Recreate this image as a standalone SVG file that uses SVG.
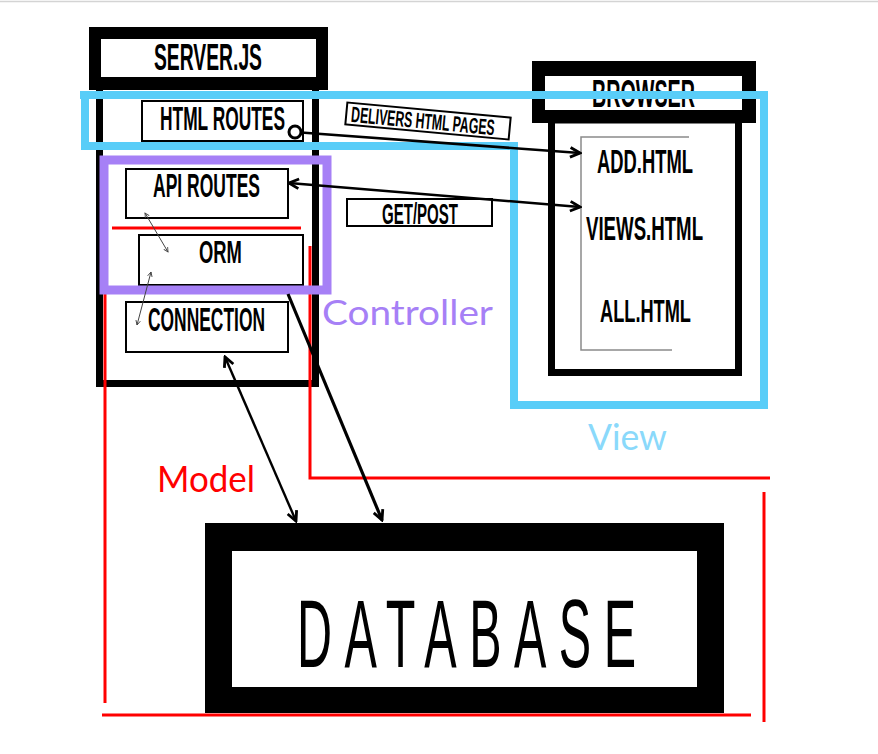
<svg xmlns="http://www.w3.org/2000/svg" width="878" height="754" viewBox="0 0 878 754">
<style>
.lbl{font-family:"Liberation Sans",Arial,sans-serif;fill:#000;font-weight:bold}
.db{font-family:"Liberation Sans",Arial,sans-serif;fill:#000}
.reg{font-family:Lato,"Open Sans",sans-serif}
.box{fill:#fff;stroke:#000;stroke-width:2}
.thick{fill:none;stroke:#000;stroke-width:7}
.red{fill:none;stroke:#ff0000;stroke-width:3}
.conn{fill:none;stroke:#000}
.thin{fill:none;stroke:#444;stroke-width:1}
</style>
<defs>
<marker id="ah" viewBox="0 0 12 12" refX="10.5" refY="6" markerWidth="13" markerHeight="13" markerUnits="userSpaceOnUse" orient="auto-start-reverse">
<path d="M1.5,1.5 L10.5,6 L1.5,10.5" fill="none" stroke="#000" stroke-width="2.6"/>
</marker>
<marker id="sah" viewBox="0 0 8 8" refX="7" refY="4" markerWidth="6" markerHeight="6" markerUnits="userSpaceOnUse" orient="auto-start-reverse">
<path d="M1,1 L7,4 L1,7" fill="none" stroke="#444" stroke-width="1.2"/>
</marker>
</defs>
<rect width="878" height="754" fill="#fff"/>
<line x1="0" y1="1.5" x2="878" y2="1.5" stroke="#d4d4d4" stroke-width="1.5"/>

<g id="server">
<rect class="thick" x="99.5" y="86" width="216" height="297.5"/>
<rect x="89" y="27" width="239" height="63" fill="#000"/>
<rect x="101" y="39" width="215" height="38" fill="#fff"/>
<text class="lbl" transform="translate(154,70) scale(0.5,1)" font-size="37" textLength="216" lengthAdjust="spacingAndGlyphs">SERVER.JS</text>
</g>
<g id="html-routes">
<rect class="box" x="142" y="101" width="161" height="40"/>
<text class="lbl" transform="translate(160,130) scale(0.5,1)" font-size="33" textLength="250" lengthAdjust="spacingAndGlyphs">HTML ROUTES</text>
</g>
<g id="api-routes">
<rect class="box" x="126" y="169" width="162" height="49"/>
<text class="lbl" transform="translate(153,197) scale(0.5,1)" font-size="33" textLength="214" lengthAdjust="spacingAndGlyphs">API ROUTES</text>
</g>
<g id="orm">
<rect class="box" x="139" y="235" width="164" height="50"/>
<text class="lbl" transform="translate(199,263) scale(0.55,1)" font-size="32" textLength="78" lengthAdjust="spacingAndGlyphs">ORM</text>
</g>
<g id="connection">
<rect class="box" x="126" y="302" width="162" height="50"/>
<text class="lbl" transform="translate(148,331) scale(0.5,1)" font-size="33" textLength="234" lengthAdjust="spacingAndGlyphs">CONNECTION</text>
</g>

<g id="browser">
<rect class="thick" x="551.5" y="120" width="187" height="252.5"/>
<rect x="532" y="61" width="224" height="62" fill="#000"/>
<rect x="545" y="76" width="197" height="34" fill="#fff"/>
<text class="lbl" transform="translate(592,107) scale(0.5,1)" font-size="39" textLength="206" lengthAdjust="spacingAndGlyphs">BROWSER</text>
<path d="M689,137 H581 V350 H672" fill="none" stroke="#8a8a8a" stroke-width="1.5"/>
</g>
<g id="add-html">
<text class="lbl" transform="translate(597,173) scale(0.55,1)" font-size="33" textLength="174.5" lengthAdjust="spacingAndGlyphs">ADD.HTML</text>
</g>
<g id="views-html">
<text class="lbl" transform="translate(586,240) scale(0.53,1)" font-size="34" textLength="220.8" lengthAdjust="spacingAndGlyphs">VIEWS.HTML</text>
</g>
<g id="all-html">
<text class="lbl" transform="translate(600,322) scale(0.57,1)" font-size="32" textLength="159.6" lengthAdjust="spacingAndGlyphs">ALL.HTML</text>
</g>

<g id="database">
<rect x="205" y="523" width="519" height="190" fill="#000"/>
<rect x="232" y="551" width="465" height="136" fill="#fff"/>
<text class="db" transform="translate(297,667) scale(0.5,1)" font-size="97" textLength="678" lengthAdjust="spacing">DATABASE</text>
</g>

<g id="delivers-label" transform="translate(428,121) rotate(5.3)">
<rect class="box" x="-82" y="-11" width="164" height="22"/>
<text class="lbl" transform="translate(-77,8) scale(0.5,1)" font-size="22" textLength="288" lengthAdjust="spacingAndGlyphs">DELIVERS HTML PAGES</text>
</g>
<g id="getpost-label">
<rect class="box" x="347" y="199" width="145" height="27"/>
<text class="lbl" transform="translate(382,224) scale(0.5,1)" font-size="29" textLength="152" lengthAdjust="spacingAndGlyphs">GET/POST</text>
</g>

<g id="model">
<line class="red" x1="112" y1="228" x2="301" y2="228"/>
<line class="red" x1="105" y1="292" x2="105" y2="703"/>
<line class="red" x1="102" y1="715" x2="751" y2="715"/>
<path class="red" d="M310,246 V478 H770"/>
<line class="red" x1="764" y1="492" x2="764" y2="722"/>
<text class="reg" x="157" y="492" font-size="36" fill="#ff0000" textLength="98" lengthAdjust="spacingAndGlyphs">Model</text>
</g>
<g id="controller">
<rect x="104" y="160" width="223" height="130" fill="none" stroke="#a680f6" stroke-width="9"/>
<text class="reg" x="322" y="325" font-size="35" fill="#a680f6" textLength="171" lengthAdjust="spacingAndGlyphs">Controller</text>
</g>
<g id="view">
<path d="M80,95 H764 V405 H514 V146 H85 V95" fill="none" stroke="#59cdf8" stroke-width="8"/>
<text class="reg" x="588" y="450" font-size="37" fill="#8ad9fb" textLength="79" lengthAdjust="spacingAndGlyphs">View</text>
</g>

<g id="connectors">
<line class="conn" stroke-width="2.6" x1="301" y1="132.5" x2="580" y2="153" marker-end="url(#ah)"/>
<circle cx="295" cy="132" r="6" fill="#fff" stroke="#000" stroke-width="3"/>
<line class="conn" stroke-width="2.6" x1="289" y1="183" x2="580" y2="207" marker-start="url(#ah)" marker-end="url(#ah)"/>
<line class="conn" stroke-width="2.4" x1="225" y1="357" x2="296" y2="521" marker-start="url(#ah)" marker-end="url(#ah)"/>
<line class="conn" stroke-width="3.2" x1="288" y1="294" x2="382" y2="520" marker-end="url(#ah)"/>
<line class="thin" x1="145" y1="213" x2="168" y2="252" marker-start="url(#sah)" marker-end="url(#sah)"/>
<line class="thin" x1="151" y1="272" x2="137" y2="325" marker-start="url(#sah)" marker-end="url(#sah)"/>
</g>
</svg>
